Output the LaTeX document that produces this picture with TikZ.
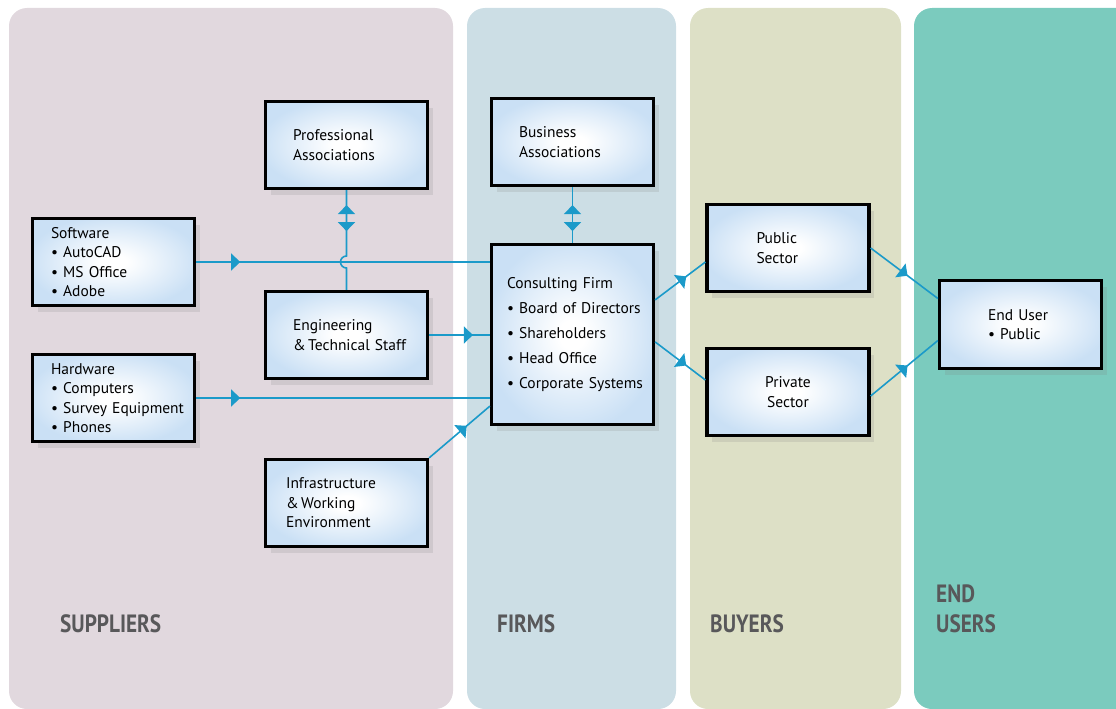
\documentclass[tikz,border=0pt]{standalone}
\usepackage{fontspec}
\setmainfont{PT Sans}
\newfontfamily\colfont{PT Sans}[FakeStretch=0.85]
\usetikzlibrary{arrows.meta, calc, decorations.markings, shadows}
\definecolor{linkblue}{HTML}{1B9AC9}
\definecolor{boxblue}{HTML}{CAE0F5}
\definecolor{suppliercol}{HTML}{E1D8DE}
\definecolor{firmcol}{HTML}{CCDEE5}
\definecolor{buyercol}{HTML}{DDE0C6}
\definecolor{usercol}{HTML}{7BCBBE}
\definecolor{labelgray}{HTML}{58585A}
\pgfdeclareradialshading{boxglow}{\pgfpoint{0bp}{0bp}}{color(0bp)=(white); color(4bp)=(white); color(27bp)=(boxblue); color(50bp)=(boxblue)}
\newcommand\boxfont{\fontsize{15.5}{19.5}\selectfont\hyphenpenalty=10000\exhyphenpenalty=10000}
\begin{document}
\begin{tikzpicture}[x=1pt, y=-1pt,
  panel/.style = {rounded corners=18pt},
  box/.style = {draw, line width=3.2pt, shading=boxglow, drop shadow={opacity=0.18, shadow xshift=5pt, shadow yshift=-6pt}, minimum width=162pt, minimum height=87pt, inner xsep=0pt, align=left, font=\boxfont},
  colname/.style = {font=\colfont\bfseries\fontsize{25}{30}\selectfont, text=labelgray, inner sep=0pt, anchor=base west, align=left},
  flow/.style = {color=linkblue, line width=1.6pt},
  tip at/.style = {postaction={decorate}, decoration={markings, mark=at position #1 with {\arrow{Triangle[length=9pt, width=17pt]}}}},
  two way/.style 2 args = {postaction={decorate}, decoration={markings, mark=at position #1 with {\arrowreversed{Triangle[length=9pt, width=17pt]}}, mark=at position #2 with {\arrow{Triangle[length=9pt, width=17pt]}}}}]
  \useasboundingbox (0,0) rectangle (1116,709);
  % columns
  \fill[suppliercol, panel] (9,8) rectangle (453,709);
  \fill[firmcol, panel] (467,8) rectangle (676,709);
  \fill[buyercol, panel] (690,8) rectangle (901,709);
  \fill[usercol, panel] (914,8) rectangle (1140,709);
  \node[colname] (suppliers) at (60,632) {SUPPLIERS};
  \node[colname] (firms) at (497,632) {FIRMS};
  \node[colname] (buyers) at (710,632) {BUYERS};
  \node[colname] (endusers) at (936,632) {END\\USERS};
  % boxes
  \node[box, text width=107pt] at (346.5,145) (prof) {Professional\\Associations};
  \node[box, text width=107pt] at (572.5,142) (biz) {Business\\Associations};
  \node[box, text width=125pt] at (113.5,262) (soft) {Software\\\textbullet~AutoCAD\\\textbullet~MS~Office\\\textbullet~Adobe};
  \node[box, text width=107pt] at (346.5,335) (eng) {Engineering\\\&\,Technical~Staff};
  \node[box, text width=125pt] at (113.5,398) (hard) {Hardware\\\textbullet~Computers\\\textbullet~Survey~Equipment\\\textbullet~Phones};
  \node[box, text width=121pt] at (346.5,503) (infra) {Infrastructure\\\&\,Working\\Environment};
  \node[box, text width=131pt, minimum height=180pt] at (572.5,334.5) (firm) {Consulting~Firm\\[5.5pt]\textbullet~Board~of~Directors\\[5.5pt]\textbullet~Shareholders\\[5.5pt]\textbullet~Head~Office\\[5.5pt]\textbullet~Corporate~Systems};
  \node[box, text width=63pt] at (788,248) (pub) {Public\\Sector};
  \node[box, text width=120pt, align=center] at (788,392) (priv) {Private\\Sector};
  \node[box, text width=65pt, minimum height=88pt] at (1020.5,324.5) (enduser) {End~User\\\textbullet~Public};
  % connectors
  \draw[flow, two way={15pt}{41pt}] (prof.south) -- ($(prof.south |- soft.east)+(0,-6)$) arc[start angle=270, end angle=90, radius=6] -- (eng.north);
  \draw[flow, two way={18pt}{44pt}] (biz.south) -- (firm.north);
  \draw[flow, tip at=0.15] (soft.east) -- (soft.east -| firm.west);
  \draw[flow, tip at=0.15] (hard.east) -- (hard.east -| firm.west);
  \draw[flow, tip at=0.72] (eng.east) -- (eng.east -| firm.west);
  \draw[flow, tip at=0.62] (infra.north east) -- ($(firm.south west)+(0,-20)$);
  \draw[flow, tip at=0.62] ($(firm.north east)+(0,57)$) -- ($(pub.west)+(0,14)$);
  \draw[flow, tip at=0.62] ($(firm.north east)+(0,99)$) -- ($(priv.west)+(0,-12)$);
  \draw[flow, tip at=0.55] (pub.east) -- ($(enduser.west)+(0,-26)$);
  \draw[flow, tip at=0.55] ($(priv.east)+(0,4)$) -- ($(enduser.west)+(0,16)$);
\end{tikzpicture}
\end{document}
